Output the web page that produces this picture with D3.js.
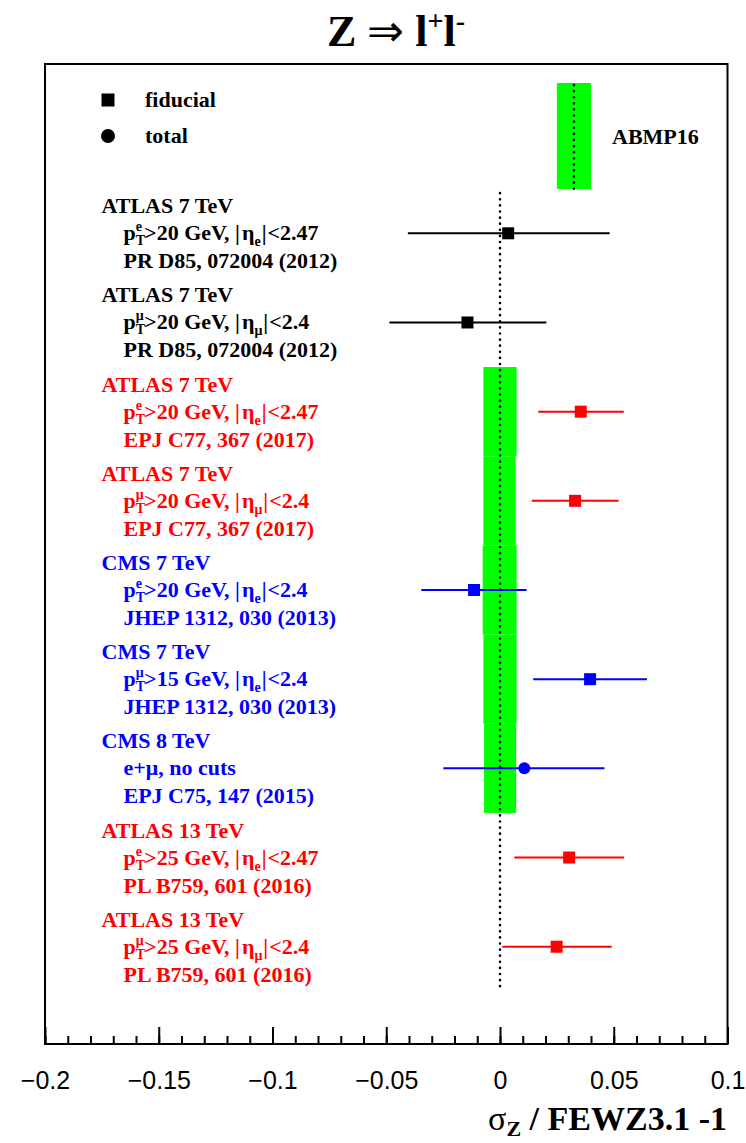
<!DOCTYPE html>
<html>
<head>
<meta charset="utf-8">
<script src="https://cdn.jsdelivr.net/npm/d3@7"></script>
<style>
  body { margin: 0; background: #fff; }
  .serif { font-family: "Liberation Serif", "Times New Roman", serif; font-weight: bold; white-space: pre; }
  .tick text { font-family: "Liberation Sans", Arial, sans-serif; }
</style>
</head>
<body>
<div id="chart"></div>
<script>
// measurements, top to bottom
const experiments = ["ATLAS 7 TeV", "ATLAS 7 TeV", "ATLAS 7 TeV", "ATLAS 7 TeV", "CMS 7 TeV",
                     "CMS 7 TeV", "CMS 8 TeV", "ATLAS 13 TeV", "ATLAS 13 TeV"];
const references = ["PR D85, 072004 (2012)", "PR D85, 072004 (2012)", "EPJ C77, 367 (2017)",
                    "EPJ C77, 367 (2017)", "JHEP 1312, 030 (2013)", "JHEP 1312, 030 (2013)",
                    "EPJ C75, 147 (2015)", "PL B759, 601 (2016)", "PL B759, 601 (2016)"];
const datasets = ["ATLAS 2012", "ATLAS 2012", "ATLAS", "ATLAS", "CMS", "CMS", "CMS", "ATLAS", "ATLAS"];
const kinds = ["fiducial", "fiducial", "fiducial", "fiducial", "fiducial", "fiducial", "total", "fiducial", "fiducial"];

// kinematic cuts
const ptLepton = ["e", "μ", "e", "μ", "e", "μ", null, "e", "μ"];
const ptCut = ["20", "20", "20", "20", "20", "15", null, "25", "25"];
const etaLepton = ["e", "μ", "e", "μ", "e", "e", null, "e", "μ"];
const etaCut = ["2.47", "2.4", "2.47", "2.4", "2.4", "2.4", null, "2.47", "2.4"];
const noCutText = "e+μ, no cuts";

// sigma_Z / FEWZ3.1 - 1 with error range
const centers = [0.0036, -0.0143, 0.0355, 0.0330, -0.0114, 0.0396, 0.0107, 0.0304, 0.0249];
const lows    = [-0.0405, -0.0486, 0.0168, 0.0140, -0.0346, 0.0146, -0.0249, 0.0063, 0.0010];
const highs   = [0.0482, 0.0204, 0.0544, 0.0521, 0.0117, 0.0646, 0.0459, 0.0546, 0.0491];

// ABMP16 prediction bands (rows 2..6, zero based)
const bandRows = [2, 3, 4, 5, 6];
const bandLows = [-0.0073, -0.0073, -0.0076, -0.0073, -0.0070];
const bandHighs = [0.0073, 0.0069, 0.0073, 0.0073, 0.0071];
const abmpCenter = 0.0325, abmpLow = 0.0250, abmpHigh = 0.0400;

const xTicks = [-0.2, -0.15, -0.1, -0.05, 0, 0.05, 0.1];

const W = 746, H = 1143;
const frame = {left: 45, right: 727.5, top: 64, bottom: 1044};

const svg = d3.select("#chart").append("svg")
  .attr("width", W).attr("height", H);

const x = d3.scaleLinear().domain([-0.2, 0.1]).range([frame.left, frame.right]);
const y = d3.scaleLinear().domain([0, 8]).range([233.3, 946.7]);
const color = d3.scaleOrdinal().domain(["ATLAS 2012", "ATLAS", "CMS"]).range(["#000000", "#ff0000", "#0000ff"]);

// title
const title = svg.append("text").attr("class", "serif")
  .attr("x", 396).attr("y", 46).attr("text-anchor", "middle")
  .style("font-size", "44px");
title.append("tspan").text("Z ");
title.append("tspan").style("font-weight", "normal").text("⇒");
title.append("tspan").text(" l");
title.append("tspan").attr("dy", -16).style("font-size", "28px").text("+");
title.append("tspan").attr("dy", 16).text("l");
title.append("tspan").attr("dy", -16).style("font-size", "28px").text("-");

// theory bands
svg.selectAll(".band")
  .data(bandRows)
  .enter().append("rect")
  .attr("x", (d, i) => x(bandLows[i]))
  .attr("width", (d, i) => x(bandHighs[i]) - x(bandLows[i]))
  .attr("y", d => y(d - 0.5))
  .attr("height", d => y(d + 0.5) - y(d - 0.5))
  .attr("fill", "#00ff00");

// ABMP16 legend band
svg.append("rect")
  .attr("x", x(abmpLow)).attr("width", x(abmpHigh) - x(abmpLow))
  .attr("y", 83).attr("height", 106)
  .attr("fill", "#00ff00");
svg.append("line")
  .attr("x1", x(abmpCenter)).attr("x2", x(abmpCenter))
  .attr("y1", 85).attr("y2", 189)
  .attr("stroke", "black").attr("stroke-width", 2.6)
  .attr("stroke-linecap", "round").attr("stroke-dasharray", "0.1,6");
svg.append("text").attr("class", "serif")
  .attr("x", 612).attr("y", 144).style("font-size", "22px").text("ABMP16");

// zero line
svg.append("line")
  .attr("x1", x(0)).attr("x2", x(0))
  .attr("y1", y(-0.45)).attr("y2", y(8.5))
  .attr("stroke", "black").attr("stroke-width", 2.6)
  .attr("stroke-linecap", "round").attr("stroke-dasharray", "0.1,6");

// error bars
svg.selectAll(".err")
  .data(centers)
  .enter().append("line")
  .attr("x1", (d, i) => x(lows[i]))
  .attr("x2", (d, i) => x(highs[i]))
  .attr("y1", (d, i) => y(i)).attr("y2", (d, i) => y(i))
  .attr("stroke", (d, i) => color(datasets[i]))
  .attr("stroke-width", 2);

// markers
const sq = 12;
svg.selectAll(".marker")
  .data(centers)
  .enter().append("path")
  .attr("transform", (d, i) => `translate(${x(d)},${y(i)})`)
  .attr("d", (d, i) => kinds[i] === "total"
    ? d3.symbol(d3.symbolCircle, Math.PI * 6 * 6)()
    : `M${-sq / 2},${-sq / 2}h${sq}v${sq}h${-sq}Z`)
  .attr("fill", (d, i) => color(datasets[i]));

// legend
const legend = [{k: "fiducial", y: 100}, {k: "total", y: 136}];
legend.forEach(l => {
  svg.append("path")
    .attr("transform", `translate(108,${l.y})`)
    .attr("d", l.k === "total"
      ? d3.symbol(d3.symbolCircle, Math.PI * 7 * 7)()
      : `M-6.5,-6.5h13v13h-13Z`)
    .attr("fill", "black");
  svg.append("text").attr("class", "serif")
    .attr("x", 145).attr("y", l.y + 7).style("font-size", "22px").text(l.k);
});

// labels
const fs = 22, small = 14;
function piece(g, cx, by, str, size, col) {
  const t = g.append("text").attr("class", "serif")
    .attr("x", cx).attr("y", by).style("font-size", size + "px")
    .attr("fill", col).text(str);
  return t.node().getComputedTextLength();
}

experiments.forEach((name, i) => {
  const col = color(datasets[i]);
  const g = svg.append("g");
  const yr = y(i);
  piece(g, 101.5, yr - 20, name, fs, col);
  piece(g, 123.5, yr + 35, references[i], fs, col);
  const by = yr + 7;
  if (ptLepton[i] === null) {
    piece(g, 123.5, by, noCutText, fs, col);
    return;
  }
  let cx = 123.5;
  cx += piece(g, cx, by, "p", fs, col);
  const w1 = piece(g, cx, by - 9, ptLepton[i], small, col);
  const w2 = piece(g, cx, by + 5, "T", small, col);
  cx += Math.max(w1, w2) - 1;
  cx += piece(g, cx, by, ">" + ptCut[i] + " GeV, ", fs, col);
  cx += piece(g, cx, by, "|", fs, col) + 2;
  cx += piece(g, cx, by, "η", fs, col);
  cx += piece(g, cx, by + 6, etaLepton[i], small, col) + 1;
  cx += piece(g, cx, by, "|", fs, col) + 1;
  piece(g, cx, by, "<" + etaCut[i], fs, col);
});

// frame
svg.append("rect")
  .attr("x", frame.left).attr("y", frame.top)
  .attr("width", frame.right - frame.left).attr("height", frame.bottom - frame.top)
  .attr("fill", "none").attr("stroke", "black").attr("stroke-width", 2);

// x axis: minor then major ticks
svg.append("g")
  .attr("transform", `translate(0,${frame.bottom})`)
  .call(d3.axisBottom(x).tickValues(d3.range(-20, 11).map(v => v / 100))
    .tickSize(-8).tickFormat(""))
  .call(g => g.select(".domain").remove())
  .call(g => g.selectAll("line").attr("stroke-width", 2));

svg.append("g")
  .attr("transform", `translate(0,${frame.bottom})`)
  .call(d3.axisBottom(x).tickValues(xTicks).tickSize(-17).tickPadding(27)
    .tickFormat(d => (+d.toFixed(2)).toString().replace("-", "−")))
  .call(g => g.select(".domain").remove())
  .call(g => g.selectAll("line").attr("stroke-width", 2))
  .call(g => g.selectAll("text").style("font-size", "25px").attr("fill", "black"));

// axis title
const at = svg.append("text").attr("class", "serif")
  .attr("x", 727).attr("y", 1130).attr("text-anchor", "end")
  .style("font-size", "34px");
at.append("tspan").style("font-weight", "normal").text("σ");
at.append("tspan").attr("dy", 6).style("font-size", "22px").text("Z");
at.append("tspan").attr("dy", -6).text(" / FEWZ3.1 -1");
</script>
</body>
</html>
